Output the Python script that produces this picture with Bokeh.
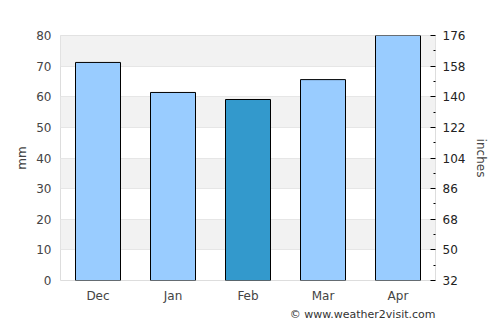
from bokeh.plotting import figure
from bokeh.models import Range1d, LinearAxis, FixedTicker, Title, ColumnDataSource
from bokeh.embed import file_html
from bokeh.resources import INLINE

months = ["Dec", "Jan", "Feb", "Mar", "Apr"]
rain_mm = [71.2, 61.4, 59.1, 65.6, 80.0]
colors = ["#99ccff", "#99ccff", "#3399cc", "#99ccff", "#99ccff"]
left_ticks = [0, 10, 20, 30, 40, 50, 60, 70, 80]
right_ticks = [32, 50, 68, 86, 104, 122, 140, 158, 176]
right_minor = [41, 59, 77, 95, 113, 131, 149, 167]

src = ColumnDataSource(dict(x=months, top=rain_mm, color=colors))

p = figure(width=500, height=325, x_range=months, y_range=Range1d(0, 80),
           output_backend="svg", toolbar_location=None,
           min_border_left=60, min_border_right=65, min_border_top=35, min_border_bottom=45)
p.outline_line_color = "#dddddd"
p.background_fill_color = "white"

p.xgrid.grid_line_color = None
p.ygrid.grid_line_color = "#e6e6e6"
p.ygrid.band_fill_color = "#f2f2f2"
p.ygrid.band_fill_alpha = 1.0
p.yaxis.ticker = FixedTicker(ticks=left_ticks)

p.vbar(x="x", top="top", width=0.6, source=src, fill_color="color",
       line_color="black", line_width=1)

text_col = "#444444"
p.yaxis.axis_label = "mm"
p.yaxis.axis_line_color = None
p.yaxis.major_tick_line_color = None
p.yaxis.minor_tick_line_color = None
p.yaxis.major_tick_out = 0
p.yaxis.minor_tick_out = 0
p.yaxis.major_label_standoff = 9
p.yaxis.axis_label_standoff = 4
p.yaxis.major_label_text_font_size = "12px"
p.yaxis.major_label_text_color = text_col
p.yaxis.major_label_text_font = "DejaVu Sans"
p.yaxis.axis_label_text_font = "DejaVu Sans"
p.yaxis.axis_label_text_font_style = "normal"
p.yaxis.axis_label_text_font_size = "12px"
p.yaxis.axis_label_text_color = text_col

p.xaxis.axis_line_color = None
p.xaxis.major_tick_line_color = None
p.xaxis.major_tick_out = 0
p.xaxis.major_label_text_font_size = "12px"
p.xaxis.major_label_text_color = text_col
p.xaxis.major_label_text_font = "DejaVu Sans"
p.xaxis.major_label_standoff = 8

p.extra_y_ranges = {"f": Range1d(32, 176)}
ax = LinearAxis(y_range_name="f", axis_label="inches")
ax.ticker = FixedTicker(ticks=right_ticks, minor_ticks=right_minor)
ax.axis_line_color = None
ax.major_tick_line_color = "black"
ax.minor_tick_line_color = "black"
ax.major_tick_out = 0
ax.major_tick_in = 5
ax.minor_tick_out = 0
ax.minor_tick_in = 2
ax.major_label_standoff = 7
ax.axis_label_standoff = 6
ax.major_label_text_font_size = "12px"
ax.major_label_text_color = "#222222"
ax.major_label_text_font = "DejaVu Sans"
ax.axis_label_text_font = "DejaVu Sans"
ax.axis_label_text_font_style = "normal"
ax.axis_label_text_font_size = "12px"
ax.axis_label_text_color = text_col
p.add_layout(ax, "right")

cr = Title(text="© www.weather2visit.com", align="right",
           text_font="DejaVu Sans", text_font_size="11px",
           text_font_style="normal", text_color="#333333", standoff=0)
p.add_layout(cr, "below")

open("out.html", "w").write(file_html(p, INLINE))
